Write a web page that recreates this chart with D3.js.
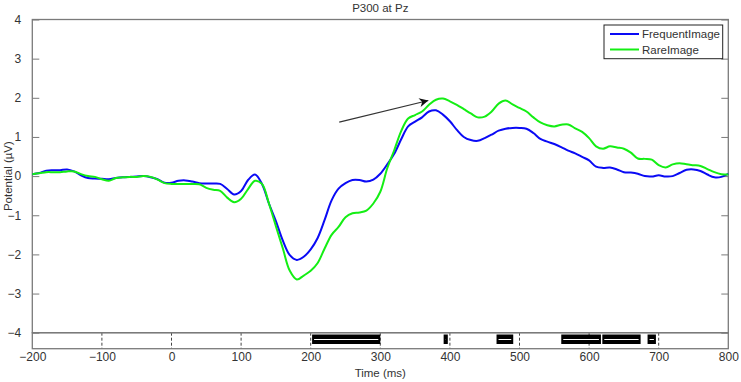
<!DOCTYPE html>
<html><head><meta charset="utf-8">
<script src="https://cdn.jsdelivr.net/npm/d3@7"></script>
<style>
body{margin:0;background:#fff;}
svg{display:block;font-family:"Liberation Sans",Arial,sans-serif;}
</style></head>
<body><svg id="c" width="741" height="382"></svg>
<script>
const times = d3.range(-200, 801, 10);
const frequentImage = [
 0.05,0.08,0.14,0.15,0.15,0.17,0.12,0.02,-0.05,-0.06,
 -0.07,-0.08,-0.05,-0.03,-0.02,-0.01,0.0,-0.03,-0.08,-0.17,
 -0.17,-0.12,-0.11,-0.14,-0.18,-0.19,-0.19,-0.2,-0.33,-0.47,
 -0.38,-0.1,0.04,-0.2,-0.7,-1.15,-1.65,-2.02,-2.14,-2.06,
 -1.87,-1.58,-1.12,-0.62,-0.32,-0.18,-0.1,-0.1,-0.14,-0.09,
 0.06,0.3,0.57,0.94,1.27,1.39,1.5,1.65,1.68,1.57,
 1.4,1.18,1.0,0.92,0.9,0.97,1.06,1.16,1.21,1.23,
 1.23,1.21,1.1,0.95,0.88,0.82,0.74,0.65,0.58,0.49,
 0.4,0.24,0.21,0.22,0.17,0.1,0.09,0.06,0.0,-0.01,
 0.02,-0.01,0.0,0.08,0.16,0.17,0.13,0.04,-0.03,-0.02,
 0.06];
const rareImage = [
 0.05,0.07,0.1,0.1,0.1,0.12,0.12,0.05,0.0,-0.02,
 -0.08,-0.12,-0.05,-0.03,-0.02,-0.02,0.0,-0.02,-0.09,-0.18,
 -0.2,-0.2,-0.2,-0.2,-0.21,-0.3,-0.35,-0.38,-0.55,-0.67,
 -0.58,-0.33,-0.12,-0.2,-0.7,-1.28,-1.85,-2.42,-2.64,-2.54,
 -2.42,-2.22,-1.85,-1.5,-1.3,-1.05,-0.95,-0.93,-0.88,-0.7,
 -0.4,0.2,0.66,1.15,1.47,1.56,1.65,1.82,1.95,1.98,
 1.91,1.82,1.71,1.6,1.5,1.52,1.65,1.85,1.93,1.83,
 1.74,1.65,1.5,1.37,1.3,1.27,1.31,1.32,1.22,1.13,
 0.97,0.76,0.7,0.76,0.73,0.7,0.6,0.45,0.44,0.42,
 0.28,0.22,0.3,0.33,0.3,0.28,0.26,0.18,0.1,0.05,
 0.04];
const seriesNames = ["FrequentImage", "RareImage"];
const xTicks = [-200,-100,0,100,200,300,400,500,600,700,800];
const yTicks = [-4,-3,-2,-1,0,1,2,3,4];
const sigStart = [202, 391, 467, 560, 619, 684];
const sigEnd   = [300, 397, 491, 617, 674, 696];
const arrowFrom = [241, 1.38];
const arrowTo   = [369, 1.93];

const svg = d3.select("#c");
const L = 32.3, R = 728.3, T = 19.5, B = 332.7, SB = 348.7;
const x = d3.scaleLinear().domain([-200, 800]).range([L, R]);
const y = d3.scaleLinear().domain([-4, 4]).range([B, T]);
const axisCol = "#7a7a7a", textCol = "#333";

// strip axes (significance)
const strip = svg.append("g");
xTicks.slice(1, -1).forEach(t => {
  strip.append("line").attr("x1", x(t)).attr("x2", x(t)).attr("y1", B).attr("y2", SB)
    .attr("stroke", "#444").attr("stroke-width", 1).attr("stroke-dasharray", "3,2");
});
sigStart.forEach((s, i) => {
  const e = sigEnd[i];
  strip.append("rect").attr("x", x(s)).attr("y", 334.5).attr("width", x(e) - x(s)).attr("height", 9.5)
    .attr("fill", "#000");
  strip.append("line").attr("x1", x(s) + 2).attr("x2", x(e) - 2).attr("y1", 339.5).attr("y2", 339.5)
    .attr("stroke", "#fff").attr("stroke-width", 1);
});
strip.append("rect").attr("x", L).attr("y", B).attr("width", R - L).attr("height", SB - B)
  .attr("fill", "none").attr("stroke", axisCol).attr("stroke-width", 1.3);

// x tick labels
const xAxis = d3.axisBottom(x).tickValues(xTicks).tickSize(0).tickPadding(4);
const gx = svg.append("g").attr("transform", `translate(0,${SB})`).call(xAxis);
gx.select(".domain").remove();
gx.selectAll("text").attr("fill", textCol).style("font-size", "12px").style("font-family", "Liberation Sans, Arial, sans-serif");

// y axis left
const yAxis = d3.axisLeft(y).tickValues(yTicks).tickSize(-7).tickPadding(11);
const gy = svg.append("g").attr("transform", `translate(${L},0)`).call(yAxis);
gy.select(".domain").remove();
gy.selectAll("line").attr("stroke", axisCol);
gy.selectAll("text").attr("fill", textCol).style("font-size", "12px").style("font-family", "Liberation Sans, Arial, sans-serif");
// y axis right (ticks only)
const yAxisR = d3.axisRight(y).tickValues(yTicks).tickSize(-7).tickFormat("");
const gyr = svg.append("g").attr("transform", `translate(${R},0)`).call(yAxisR);
gyr.select(".domain").remove();
gyr.selectAll("line").attr("stroke", axisCol);

// main box
svg.append("rect").attr("x", L).attr("y", T).attr("width", R - L).attr("height", B - T)
  .attr("fill", "none").attr("stroke", axisCol).attr("stroke-width", 1.3);

// lines
const line = d3.line().x((d, i) => x(times[i])).y(d => y(d)).curve(d3.curveCatmullRom.alpha(0.5));
svg.append("path").datum(frequentImage).attr("d", line).attr("fill", "none")
  .attr("stroke", "#0a0af5").attr("stroke-width", 2);
svg.append("path").datum(rareImage).attr("d", line).attr("fill", "none")
  .attr("stroke", "#14ee14").attr("stroke-width", 2);

// arrow
const defs = svg.append("defs");
defs.append("marker").attr("id", "ah").attr("viewBox", "0 0 10 10").attr("refX", 10).attr("refY", 5)
  .attr("markerWidth", 10).attr("markerHeight", 9).attr("markerUnits", "userSpaceOnUse").attr("orient", "auto")
  .append("path").attr("d", "M0,0 L10,5 L0,10 L3,5 Z").attr("fill", "#111");
svg.append("line").attr("x1", x(arrowFrom[0])).attr("y1", y(arrowFrom[1]))
  .attr("x2", x(arrowTo[0])).attr("y2", y(arrowTo[1]))
  .attr("stroke", "#333").attr("stroke-width", 1.2).attr("marker-end", "url(#ah)");

// legend
const lg = svg.append("g");
lg.append("rect").attr("x", 604).attr("y", 25).attr("width", 118.7).attr("height", 33.7)
  .attr("fill", "#fff").attr("stroke", "#222").attr("stroke-width", 1);
const cols = ["#0a0af5", "#14ee14"];
seriesNames.forEach((n, i) => {
  const yy = 34 + i * 15.5;
  lg.append("line").attr("x1", 610).attr("x2", 639).attr("y1", yy).attr("y2", yy)
    .attr("stroke", cols[i]).attr("stroke-width", 2);
  lg.append("text").attr("x", 642).attr("y", yy + 4).text(n)
    .attr("fill", textCol).style("font-size", "11.5px");
});

// title and labels
svg.append("text").attr("x", (L + R) / 2).attr("y", 12).attr("text-anchor", "middle")
  .text("P300 at Pz").attr("fill", textCol).style("font-size", "11.5px");
svg.append("text").attr("x", (L + R) / 2).attr("y", 377).attr("text-anchor", "middle")
  .text("Time (ms)").attr("fill", textCol).style("font-size", "11.5px");
svg.append("text").attr("transform", `translate(12,${(T + B) / 2}) rotate(-90)`).attr("text-anchor", "middle")
  .text("Potential (µV)").attr("fill", textCol).style("font-size", "11.5px");
</script></body></html>
